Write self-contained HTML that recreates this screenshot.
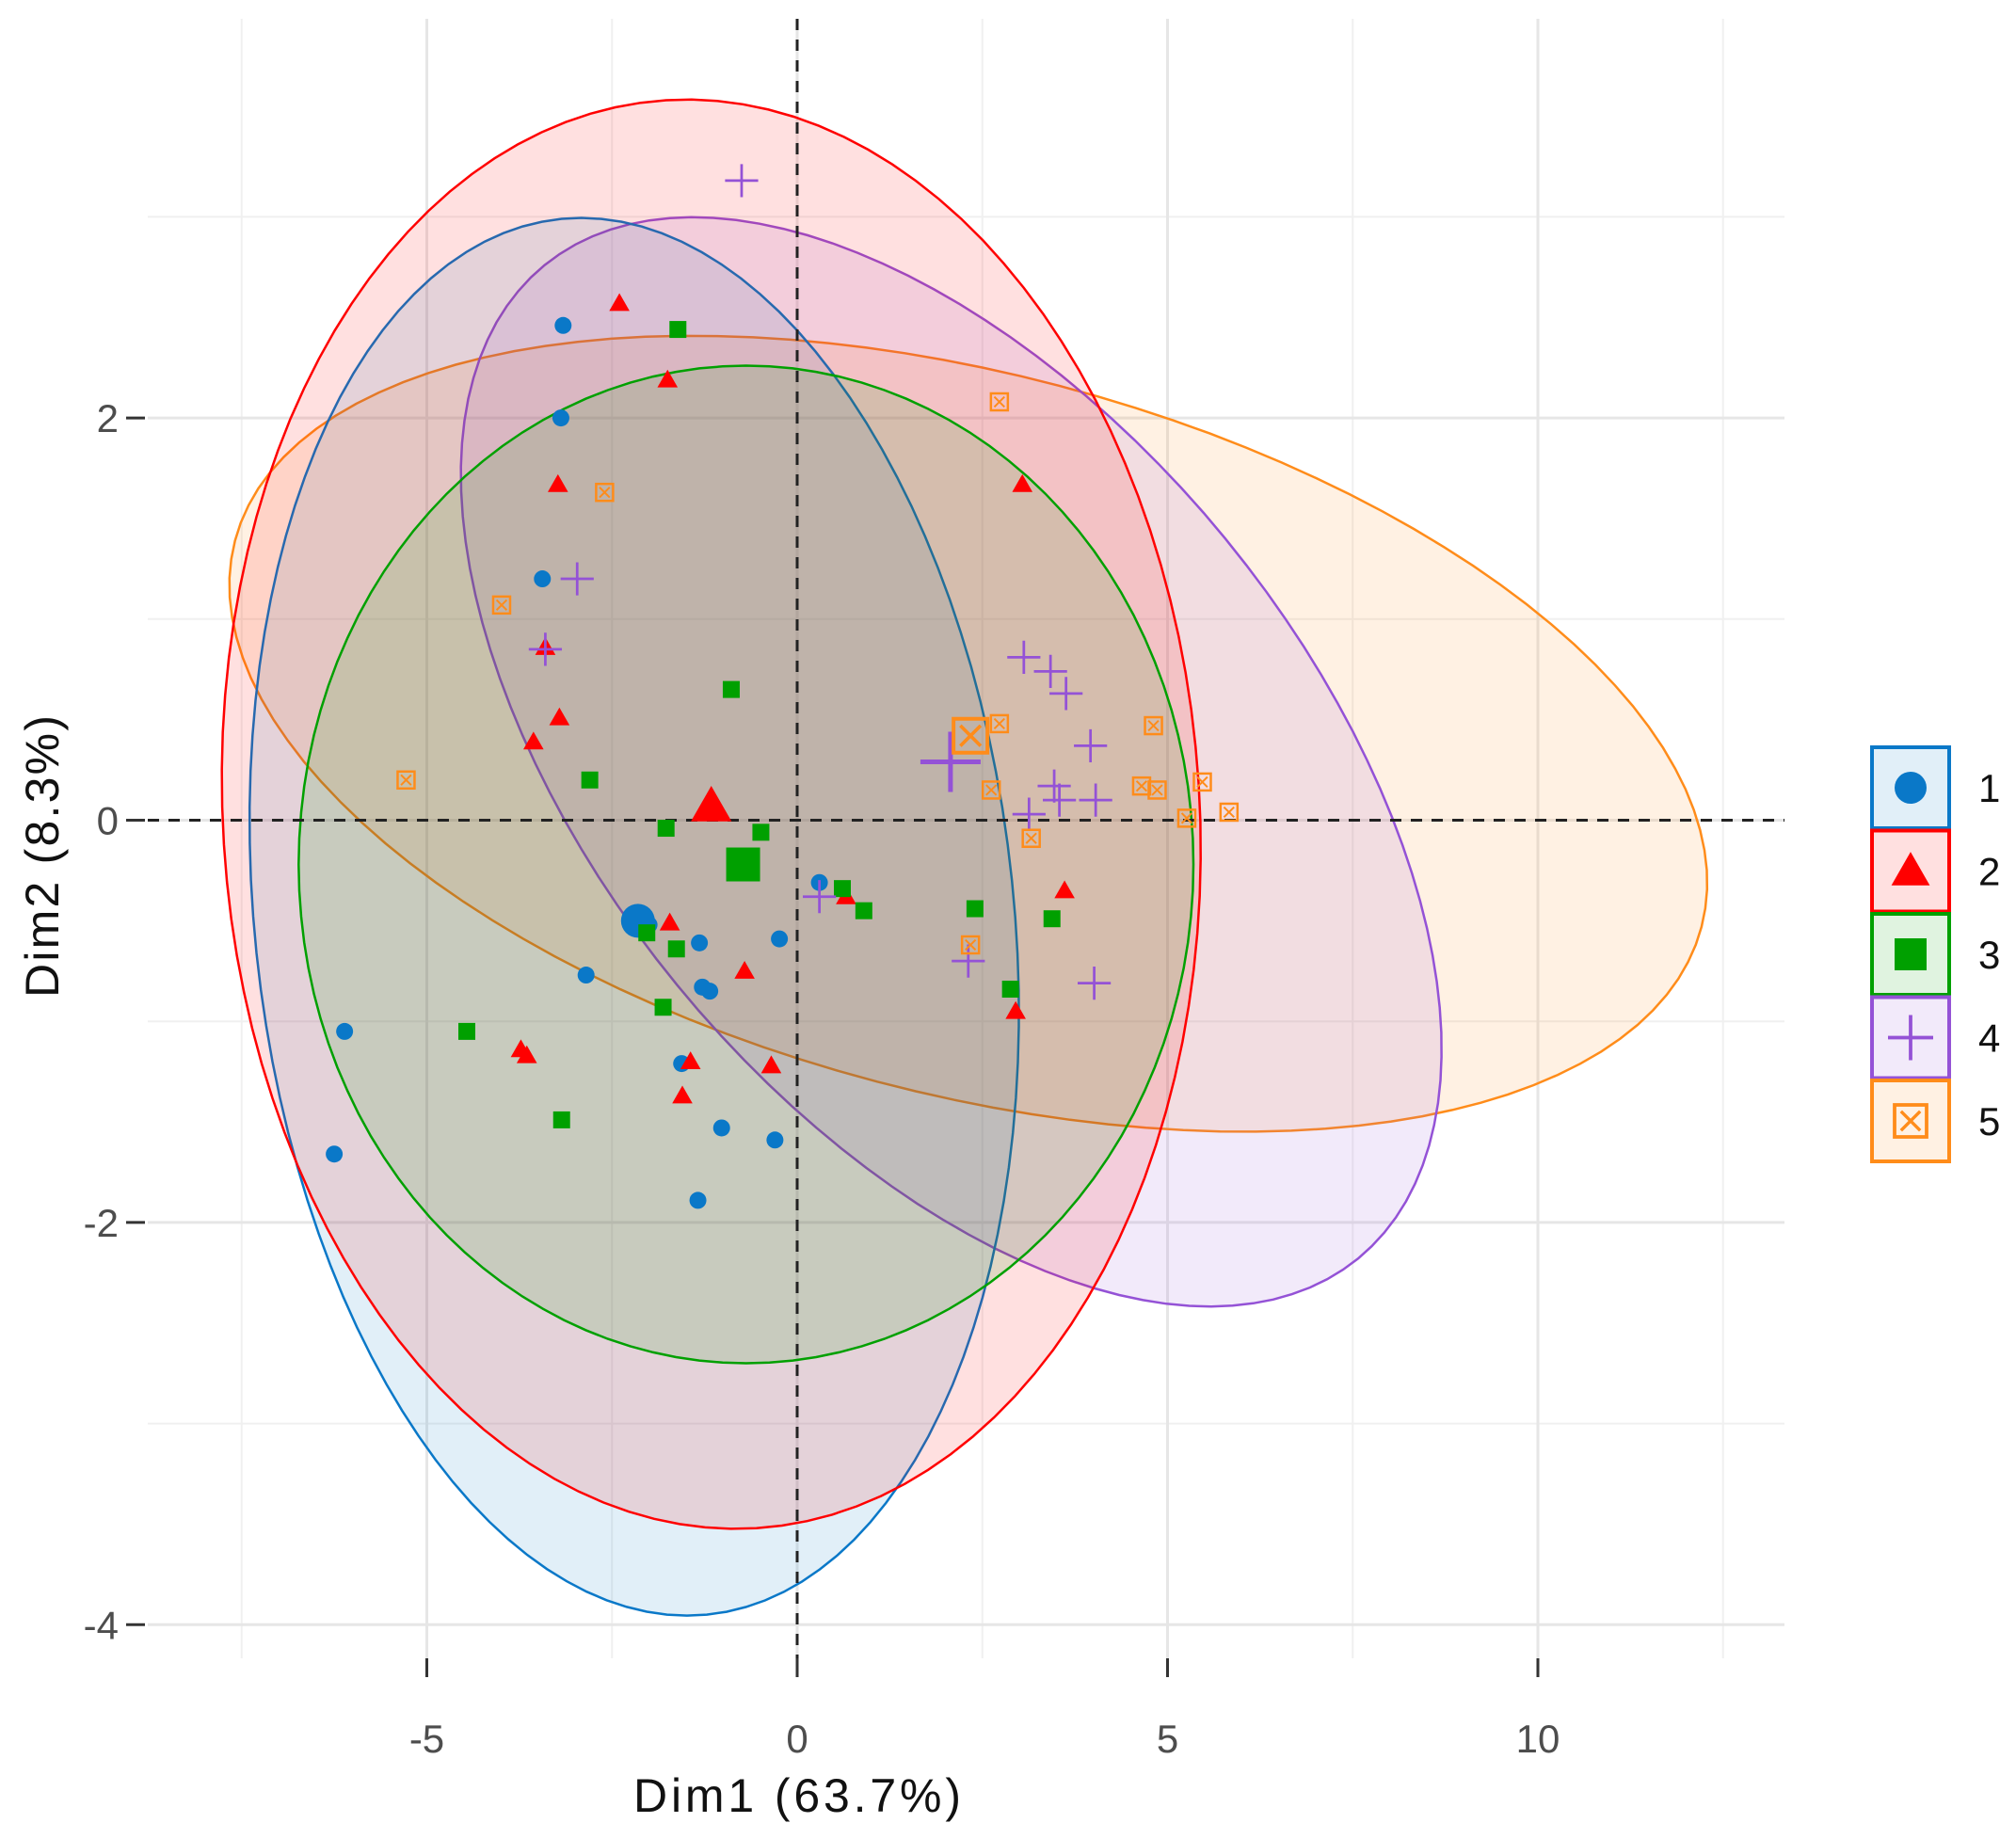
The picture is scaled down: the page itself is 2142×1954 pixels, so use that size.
<!DOCTYPE html>
<html><head><meta charset="utf-8">
<style>
html,body{margin:0;padding:0;background:#fff;}
svg{display:block;font-family:"Liberation Sans",sans-serif;}
</style></head>
<body>
<svg id="chart" width="2142" height="1954" viewBox="0 0 2142 1954">
<g id="grid"></g>
<g id="ellipses"></g>
<g id="refs"></g>
<g id="points"></g>
<g id="axes"></g>
<text x="847" y="1925" font-size="50" text-anchor="middle" fill="#111" textLength="348">Dim1 (63.7%)</text>
<text x="0" y="0" font-size="50" text-anchor="middle" fill="#111" transform="translate(62,910) rotate(-90)" textLength="300">Dim2 (8.3%)</text>
<g id="legend"></g>
</svg>
<script>
const groups = ["1","2","3","4","5"];
const colors = ["#0a78c8","#ff0000","#00a000","#9452d6","#ff8c1a"];
const g1x = [-3.16,-3.19,-3.44,-6.11,-6.25,-2.85,-1.56,-1.34,-1.02,-0.30,-1.32,-1.28,-1.18,-0.24,0.30,-2.0];
const g1y = [2.46,2.0,1.20,-1.05,-1.66,-0.77,-1.21,-1.89,-1.53,-1.59,-0.61,-0.83,-0.85,-0.59,-0.31,-0.52];
const g2x = [-2.40,-1.75,-3.23,-3.40,-3.21,-3.56,-1.72,-0.71,-3.73,-3.65,-1.44,-1.55,-0.35,3.04,3.61,2.95,0.66];
const g2y = [2.57,2.19,1.67,0.86,0.51,0.39,-0.51,-0.75,-1.14,-1.17,-1.20,-1.37,-1.22,1.67,-0.35,-0.95,-0.38];
const g3x = [-1.61,-0.89,-2.80,-1.77,-0.49,0.90,0.61,-2.03,-1.63,-4.46,-3.18,-1.81,2.40,2.88,3.44];
const g3y = [2.44,0.65,0.20,-0.04,-0.06,-0.45,-0.34,-0.56,-0.64,-1.05,-1.49,-0.93,-0.44,-0.84,-0.49];
const g4x = [-0.75,-2.97,-3.40,3.06,3.42,3.63,3.96,3.47,3.54,4.03,3.13,0.30,2.31,4.01];
const g4y = [3.18,1.20,0.85,0.81,0.74,0.63,0.37,0.17,0.10,0.10,0.03,-0.38,-0.70,-0.81];
const g5x = [2.73,-2.60,-3.99,-5.28,2.73,2.62,4.81,4.65,4.86,5.47,5.26,5.83,3.16,2.34];
const g5y = [2.08,1.63,1.07,0.20,0.48,0.15,0.47,0.17,0.15,0.19,0.01,0.04,-0.09,-0.62];
const meanX = [-2.15,-1.16,-0.73,2.07,2.34];
const meanY = [-0.50,0.07,-0.22,0.29,0.42];
// ellipse: center, axis vector u, axis vector v (data units)
const ellCx = [-2.2,-1.16,-0.69,2.08,2.31];
const ellCy = [-0.48,0.03,-0.22,0.29,0.43];
const ellUx = [0.98,0.61,6.04,5.49,9.90];
const ellUy = [-3.47,-3.55,0,-2.47,-0.96];
const ellVx = [5.10,6.58,0,3.70,-1.23];
const ellVy = [0.18,0.15,-2.48,1.11,-1.73];
const xMajor = [-5,0,5,10];
const xMinor = [-7.5,-2.5,2.5,7.5,12.5];
const yMajor = [-4,-2,0,2];
const yMinor = [-3,-1,1,3];

const NS="http://www.w3.org/2000/svg";
const X0=847, UX=78.7, Y0=871.5, UY=213.7;
const PL=157, PR=1896, PT=20, PB=1762;
const sx=v=>X0+v*UX, sy=v=>Y0-v*UY;
function mk(tag,attrs,parent){const e=document.createElementNS(NS,tag);for(const k in attrs)e.setAttribute(k,attrs[k]);parent.appendChild(e);return e;}
const grid=document.getElementById('grid');
xMinor.forEach(v=>{const l=mk('line',{x1:sx(v),x2:sx(v),y1:PT,y2:PB,stroke:'#f0f0f0','stroke-width':2},grid);

});
yMinor.forEach(v=>{const l=mk('line',{x1:PL,x2:PR,y1:sy(v),y2:sy(v),stroke:'#f0f0f0','stroke-width':2},grid);

});
xMajor.forEach(v=>{const l=mk('line',{x1:sx(v),x2:sx(v),y1:PT,y2:PB,stroke:'#e6e6e6','stroke-width':3},grid);

});
yMajor.forEach(v=>{const l=mk('line',{x1:PL,x2:PR,y1:sy(v),y2:sy(v),stroke:'#e6e6e6','stroke-width':3},grid);

});

const ell=document.getElementById('ellipses');
const order=[4,3,0,1,2];
order.forEach(i=>{let d='';for(let k=0;k<=120;k++){const t=k/120*2*Math.PI;const x=ellCx[i]+ellUx[i]*Math.cos(t)+ellVx[i]*Math.sin(t);const y=ellCy[i]+ellUy[i]*Math.cos(t)+ellVy[i]*Math.sin(t);d+=(k?'L':'M')+sx(x).toFixed(1)+' '+sy(y).toFixed(1);}
const p=mk('path',{d:d+'Z',fill:colors[i],'fill-opacity':0.12,stroke:colors[i],'stroke-width':2.5},ell);

});

const refs=document.getElementById('refs');
const r1=mk('line',{x1:sx(0),x2:sx(0),y1:PT,y2:PB,stroke:'#222','stroke-width':3,'stroke-dasharray':'12 10'},refs);


const r2=mk('line',{x1:PL,x2:PR,y1:sy(0),y2:sy(0),stroke:'#222','stroke-width':3,'stroke-dasharray':'12 10'},refs);



function marker(i,cx,cy,s,parent){const c=colors[i];let e;
 if(i===0)e=mk('circle',{cx,cy,r:s/2,fill:c},parent);
 else if(i===1)e=mk('polygon',{points:`${cx},${cy-s*0.6} ${cx-s*0.6},${cy+s*0.45} ${cx+s*0.6},${cy+s*0.45}`,fill:c},parent);
 else if(i===2)e=mk('rect',{x:cx-s/2,y:cy-s/2,width:s,height:s,fill:c},parent);
 else if(i===3){e=mk('path',{d:`M${cx-s*0.8} ${cy}H${cx+s*0.8}M${cx} ${cy-s*0.8}V${cy+s*0.8}`,stroke:c,'stroke-width':Math.max(2.5,s/8),fill:'none'},parent);}
 else {e=mk('g',{},parent);mk('rect',{x:cx-s/2,y:cy-s/2,width:s,height:s,fill:'none',stroke:c,'stroke-width':Math.max(2.5,s/9)},e);
  mk('path',{d:`M${cx-s*0.3} ${cy-s*0.3}L${cx+s*0.3} ${cy+s*0.3}M${cx+s*0.3} ${cy-s*0.3}L${cx-s*0.3} ${cy+s*0.3}`,stroke:c,'stroke-width':Math.max(2,s/10)},e);}
 return e;}
const pts=document.getElementById('points');
const gx=[g1x,g2x,g3x,g4x,g5x], gy=[g1y,g2y,g3y,g4y,g5y];
for(let i=0;i<5;i++){
 for(let j=0;j<gx[i].length;j++){const e=marker(i,sx(gx[i][j]),sy(gy[i][j]),i===3?22:18,pts);
  
  }
 const m=marker(i,sx(meanX[i]),sy(meanY[i]),i===3?40:36,pts);
 
 
}

const axes=document.getElementById('axes');
xMajor.forEach(v=>{const t=mk('line',{x1:sx(v),x2:sx(v),y1:PB,y2:PB+20,stroke:'#333','stroke-width':3},axes);


const l=mk('text',{x:sx(v),y:1862,'font-size':42,'text-anchor':'middle',fill:'#4d4d4d'},axes);l.textContent=String(v);

});
yMajor.forEach(v=>{const t=mk('line',{x1:134,x2:154,y1:sy(v),y2:sy(v),stroke:'#333','stroke-width':3},axes);


const l=mk('text',{x:126,y:sy(v)+15,'font-size':42,'text-anchor':'end',fill:'#4d4d4d'},axes);l.textContent=String(v);

});

const leg=document.getElementById('legend');
for(let i=0;i<5;i++){const y=794+i*88.5;
 const b=mk('rect',{x:1989,y:y,width:82,height:86,fill:colors[i],'fill-opacity':0.12,stroke:colors[i],'stroke-width':4},leg);
 
 
 const m=marker(i,2030,y+43,i===3?30:34,leg);
 
 
 const t=mk('text',{x:2102,y:y+58,'font-size':42,fill:'#111'},leg);t.textContent=groups[i];
 
 }
</script>
</body></html>
